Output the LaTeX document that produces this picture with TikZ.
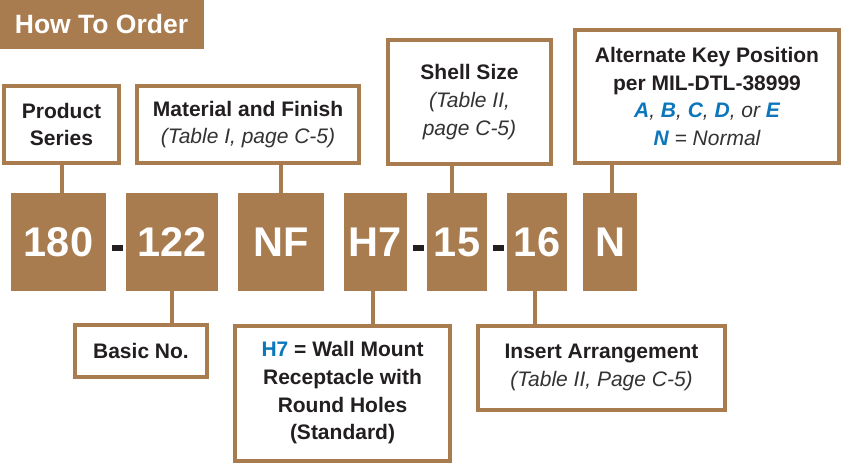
\documentclass[tikz,border=0pt]{standalone}
\usepackage{fontspec}
\setmainfont{Liberation Sans}
\definecolor{brn}{HTML}{A97C50}
\definecolor{txt}{HTML}{231F20}
\definecolor{itx}{HTML}{333333}
\definecolor{blu}{HTML}{0B76BC}
\newcommand\itl[1]{{\mdseries\itshape\color{itx}#1}}
\newcommand\bl[1]{{\bfseries\color{blu}#1}}
\begin{document}
\begin{tikzpicture}[x=1pt,y=-1pt,
  lbl/.style={draw=brn, line width=4pt, fill=white, align=center, text=txt,
    font=\fontsize{21}{27.7}\selectfont\bfseries, inner sep=0pt},
  code/.style={fill=brn, text=white, font=\fontsize{41.5}{41.5}\selectfont\bfseries,
    inner sep=0pt, minimum height=98pt},
  stem/.style={draw=brn, line width=4pt},
  dashbar/.style={fill=txt, minimum width=11pt, minimum height=6pt, inner sep=0pt}]
\useasboundingbox (0,0) rectangle (842,466);

% title
\node[fill=brn, text=white, minimum width=205pt, minimum height=49pt, inner sep=0pt,
  font=\fontsize{26.5}{26.5}\selectfont\bfseries] (title) at (101.5,24.5) {How To Order};

% code boxes
\node[code, minimum width=95pt] (c180) at (58.5,242) {180};
\node[code, minimum width=92pt] (c122) at (172,242) {122};
\node[code, minimum width=86pt] (cnf) at (281,242) {NF};
\node[code, minimum width=63pt] (ch7) at (375.5,242) {H7};
\node[code, minimum width=60pt] (c15) at (457,242) {15};
\node[code, minimum width=60pt] (c16) at (537,242) {16};
\node[code, minimum width=54pt] (cn) at (610,242) {N};

% dashes
\node[dashbar] (d1) at (117,248) {};
\node[dashbar] (d2) at (418.5,248) {};
\node[dashbar] (d3) at (498.5,248) {};

% label boxes
\node[lbl, minimum width=115pt, minimum height=77pt] (ps) at (61.5,124.5) {Product\\Series};
\node[lbl, minimum width=222pt, minimum height=77pt] (mf) at (248,124.5)
  {Material and Finish\\\itl{(Table I, page C-5)}};
\node[lbl, minimum width=163pt, minimum height=124pt] (ss) at (469.5,102)
  {Shell Size\\\itl{(Table II,}\\\itl{page C-5)}};
\node[lbl, minimum width=264pt, minimum height=133pt] (ak) at (707,96.5)
  {Alternate Key Position\\per MIL-DTL-38999\\
   \itl{\bl{A}, \bl{B}, \bl{C}, \bl{D}, or \bl{E}}\\
   \itl{\bl{N} = Normal}};
\node[lbl, minimum width=132pt, minimum height=52pt] (bn) at (141,351) {Basic No.};
\node[lbl, minimum width=215pt, minimum height=135pt] (hd) at (342.5,393)
  {{\color{blu}H7} = Wall Mount\\Receptacle with\\Round Holes\\(Standard)};
\node[lbl, minimum width=247pt, minimum height=84pt] (ia) at (601.5,367.5)
  {Insert Arrangement\\\itl{(Table II, Page C-5)}};

% stems
\draw[stem] (ps.south) -- (ps.south |- c180.north);
\draw[stem] (cnf.north) -- (cnf.north |- mf.south);
\draw[stem] ([xshift=-5pt]c15.north) -- ([xshift=-5pt]c15.north |- ss.south);
\draw[stem] ([xshift=2pt]cn.north) -- ([xshift=2pt]cn.north |- ak.south);
\draw[stem] (c122.south) -- (c122.south |- bn.north);
\draw[stem] ([xshift=-2.5pt]ch7.south) -- ([xshift=-2.5pt]ch7.south |- hd.north);
\draw[stem] ([xshift=-2pt]c16.south) -- ([xshift=-2pt]c16.south |- ia.north);
\end{tikzpicture}
\end{document}
